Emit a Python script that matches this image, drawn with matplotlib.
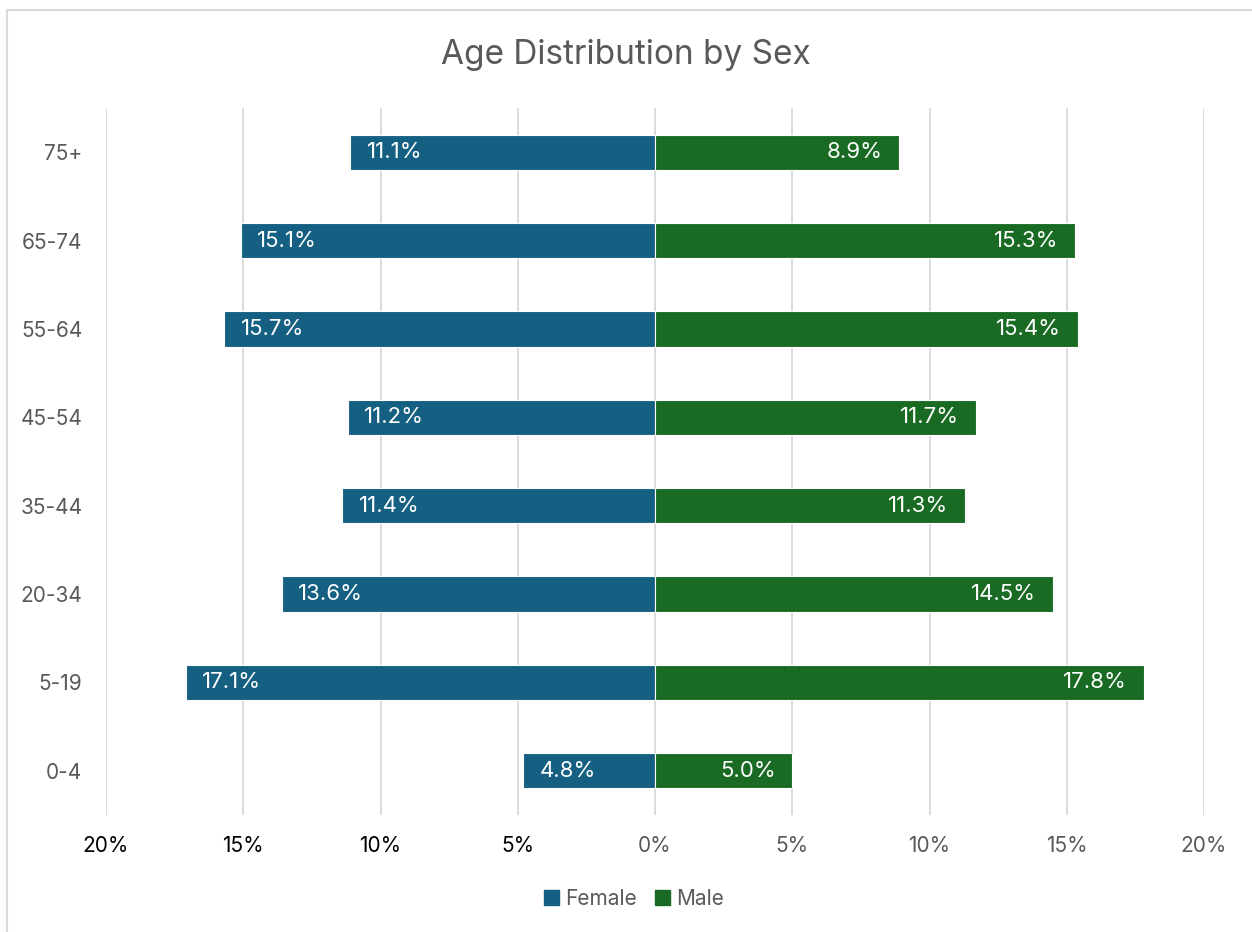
import matplotlib.pyplot as plt
from matplotlib.lines import Line2D
from matplotlib.patches import Patch

plt.rcParams['font.family'] = ['Inter', 'DejaVu Sans']

# data (bottom to top)
age_groups = ["0-4", "5-19", "20-34", "35-44", "45-54", "55-64", "65-74", "75+"]
female = [4.8, 17.1, 13.6, 11.4, 11.2, 15.7, 15.1, 11.1]
male = [5.0, 17.8, 14.5, 11.3, 11.7, 15.4, 15.3, 8.9]
ticks = [-20, -15, -10, -5, 0, 5, 10, 15, 20]
tick_labels = ["20%", "15%", "10%", "5%", "0%", "5%", "10%", "15%", "20%"]

c_female = "#156082"
c_male = "#196B24"
gray = "#595959"

fig = plt.figure(figsize=(12.52, 9.32), dpi=100)
ax = fig.add_axes([106 / 1252, 1 - 815 / 932, (1204 - 106) / 1252, (815 - 108) / 932])

y = range(len(age_groups))
neg = [-v for v in female]
ax.barh(y, neg, height=0.4, color=c_female, edgecolor="white", linewidth=0.8, zorder=3)
ax.barh(y, male, height=0.4, color=c_male, edgecolor="white", linewidth=0.8, zorder=3)

# data labels inside bar ends
for i, (f, m) in enumerate(zip(female, male)):
    ax.annotate(f"{f:.1f}%", (-f, i), xytext=(12, 0), textcoords="offset points",
                ha="left", va="center", color="white", fontsize=16, zorder=4)
    ax.annotate(f"{m:.1f}%", (m, i), xytext=(-12, 0), textcoords="offset points",
                ha="right", va="center", color="white", fontsize=16, zorder=4)

ax.set_xlim(-20, 20)
ax.set_ylim(-0.5, len(age_groups) - 0.5)
ax.set_xticks(ticks)
ax.set_xticklabels(tick_labels, fontsize=15)
for lbl, t in zip(ax.get_xticklabels(), ticks):
    lbl.set_color("black" if t < 0 else gray)
ax.set_yticks(list(y))
ax.set_yticklabels(age_groups, fontsize=15, color=gray)
ax.tick_params(axis="both", length=0)
ax.tick_params(axis="x", pad=15)
ax.tick_params(axis="y", pad=17)
ax.xaxis.grid(True, color="#D9D9D9", linewidth=1.3, zorder=0)
for s in ax.spines.values():
    s.set_visible(False)

fig.text(0.5, 1 - 55 / 932, "Age Distribution by Sex", ha="center", va="center",
         fontsize=24, color=gray)

handles = [Patch(color=c_female, label="Female"), Patch(color=c_male, label="Male")]
fig.legend(handles=handles, loc="center", bbox_to_anchor=(634 / 1252, 1 - 899 / 932), ncol=2,
           frameon=False, fontsize=15, labelcolor=gray, handlelength=0.7, handleheight=0.7,
           handletextpad=0.3, columnspacing=0.9)

# chart border (top and left visible)
fig.add_artist(Line2D([7 / 1252, 1], [1 - 10 / 932, 1 - 10 / 932], color="#D9D9D9", linewidth=1.5))
fig.add_artist(Line2D([7 / 1252, 7 / 1252], [0, 1 - 10 / 932], color="#D9D9D9", linewidth=1.5))

fig.savefig("out.png", dpi=100, facecolor="white")
